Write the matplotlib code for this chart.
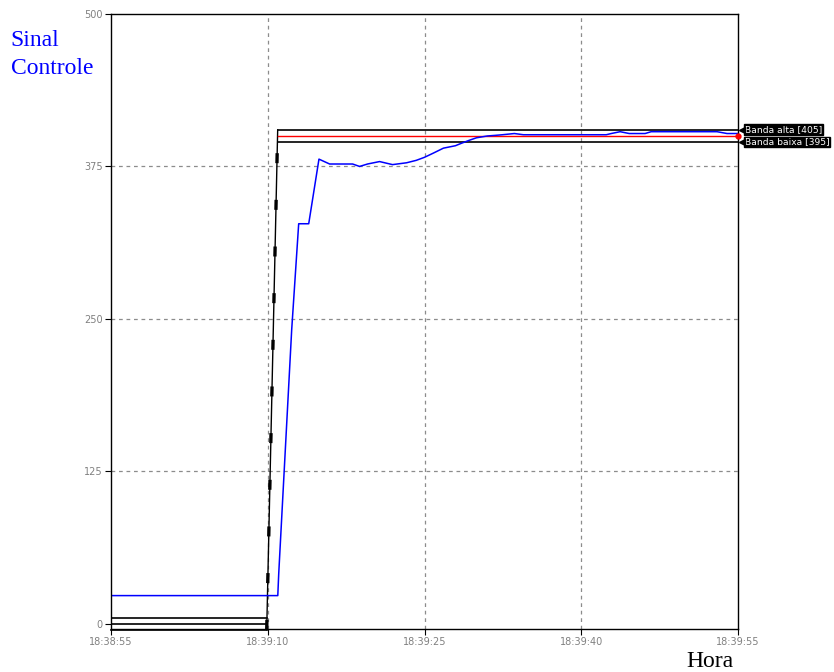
import numpy as np
import matplotlib.pyplot as plt

# time in seconds after 18:38:55
tick_secs = [0, 15, 30, 45, 60]
tick_labels = ['18:38:55', '18:39:10', '18:39:25', '18:39:40', '18:39:55']
y_ticks = [0, 125, 250, 375, 500]

# controlled signal (blue)
sig_t = [0, 15.96, 16.05, 17.29, 17.96, 18.92, 19.90, 20.92, 23.12, 23.79, 24.55,
         25.70, 26.94, 28.28, 29.21, 30.0, 30.86, 31.81, 32.96, 33.53, 34.30, 34.97,
         36.02, 36.78, 37.45, 38.6, 39.46, 47.39, 47.87, 48.72, 49.59, 51.11, 51.69,
         57.99, 58.95, 60]
sig_v = [23, 23, 41, 241, 328, 328, 381, 377, 377, 375, 377,
         379, 376.5, 378, 380, 382.5, 386, 390, 392, 394, 396.5, 398.5,
         400, 400.5, 401, 402, 401, 401, 402, 403.5, 402, 402, 403.5,
         403.5, 402, 402]

# setpoint and bands
t_before = [0, 14.9]
t_after = [15.95, 60]
alta_before, alta_after = 5, 405
set_before, set_after = 0, 400
baixa_before, baixa_after = -5, 395
step_t = [14.9, 15.95]
step_v = [-5, 405]

fig = plt.figure(figsize=(8.34, 6.72), dpi=100)
ax = fig.add_axes([0.1331, 0.0647, 0.7518, 0.9144])

# inner grid only (edges coincide with frame / bands)
for t in tick_secs[1:-1]:
    ax.axvline(t, color='#8c8c8c', linestyle=(0, (3, 3)), linewidth=0.9, zorder=0)
for v in y_ticks[1:-1]:
    ax.axhline(v, color='#8c8c8c', linestyle=(0, (3, 3)), linewidth=0.9, zorder=0)

ax.plot(t_before, [alta_before] * 2, color='black', lw=1.2)
ax.plot(t_before, [set_before] * 2, color='black', lw=1.2)
ax.plot(t_before, [baixa_before] * 2, color='black', lw=1.2, clip_on=False)
ax.plot(step_t, step_v, color='black', lw=1.0, clip_on=False)
ax.plot(step_t, step_v, color='black', lw=2.4, dashes=(3, 11), clip_on=False)
ax.plot(t_after, [alta_after] * 2, color='black', lw=1.2)
ax.plot(t_after, [baixa_after] * 2, color='black', lw=1.2)
ax.plot(t_after, [set_after] * 2, color='#ff0000', lw=1.0)
ax.plot(sig_t, sig_v, color='#0000ff', lw=1.1)

ax.set_xlim(0, 60)
ax.set_ylim(-4, 500)
ax.set_xticks(tick_secs)
ax.set_xticklabels(tick_labels)
ax.set_yticks(y_ticks)
ax.tick_params(axis='both', labelsize=7, labelcolor='#808080', length=4,
               width=0.8, color='black', pad=2)
for s in ax.spines.values():
    s.set_color('black')
    s.set_linewidth(1.0)

# band labels on the right
ax.plot([60], [set_after], 'o', color='#ff0000', ms=3.5, clip_on=False, zorder=6)
for val, txt in [(alta_after, 'Banda alta [405]'), (baixa_after, 'Banda baixa [395]')]:
    ax.plot([60.4], [val], marker='<', color='black', ms=5, clip_on=False, zorder=5)
    ax.text(1.0105, val, txt, transform=ax.get_yaxis_transform(), fontsize=6.6,
            color='white', va='center', ha='left',
            bbox=dict(boxstyle='square,pad=0.1', facecolor='black', edgecolor='black'))

fig.text(0.013, 0.955, 'Sinal\nControle', color='#0000ff', fontsize=17,
         family='Liberation Serif', va='top', ha='left', linespacing=1.45)
fig.text(0.8225, 0.015, 'Hora', color='black', fontsize=17,
         family='Liberation Serif', va='center', ha='left')

fig.savefig('out.png', dpi=100)
